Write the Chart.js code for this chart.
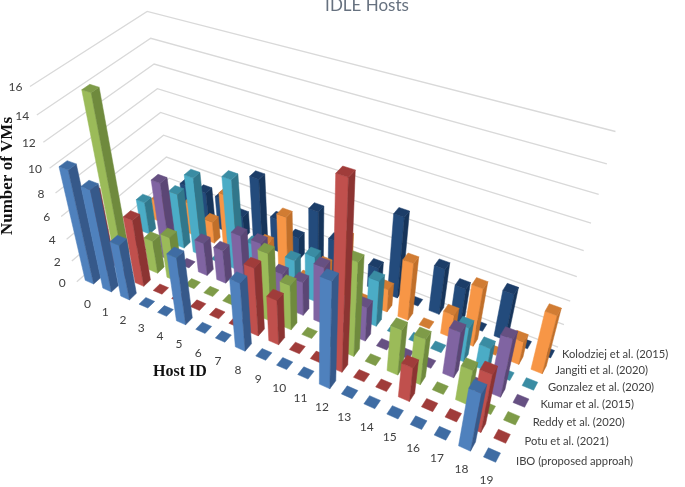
<!DOCTYPE html>
<html>
<head>
<meta charset="utf-8">
<title>IDLE Hosts</title>
<script src="https://cdn.jsdelivr.net/npm/chart.js@4"></script>
<style>
  html, body { margin: 0; padding: 0; background: #fff; }
  #wrap { width: 685px; height: 487px; }
</style>
</head>
<body>
<div id="wrap"><canvas id="idleChart"></canvas></div>
<script>
// data
const hosts = ['0','1','2','3','4','5','6','7','8','9','10','11','12','13','14','15','16','17','18','19'];
const seriesNames = ['IBO (proposed approah)','Potu et al. (2021)','Reddy et al. (2020)','Kumar et al. (2015)','Gonzalez et al. (2020)','Jangiti et al. (2020)','Kolodziej et al. (2015)'];
const ibo       = [10,9,5,0,0,6,0,0,6,0,0,0,9,0,0,0,0,0,5,0];
const potu      = [7,0,6,0,0,0,0,0,6,4,0,0,15,0,0,3,0,0,5,0];
const reddy     = [14,0,3,4,0,0,0,0,6,4,0,0,8,0,4,4,0,3,0,0];
const kumar     = [0,0,7,0,3,3,5,5,3,3,5,0,3,0,0,0,4,0,5,0];
const gonzalez  = [3,0,5,7,0,8,3,0,3,4,0,0,4,0,0,0,3,2,0,0];
const jangiti   = [2,3,3,2,5,0,2,5,0,2,5,0,2,5,0,2,5,0,2,5];
const kolodziej = [0,3,3,3,2,6,3,2,5,3,0,2,7,0,4,3,0,4,0,0];

// front face, side face, top face
const shades = [
  ['#4f81bd','#36598a','#3f6ca3'],
  ['#c0504d','#8c3432','#a03c3a'],
  ['#9bbb59','#6f8a3d','#7e9b48'],
  ['#8064a2','#5b4675','#665082'],
  ['#4bacc6','#31778b','#3a8ca3'],
  ['#f79646','#c06f2a','#d17c33'],
  ['#234b7c','#16345a','#1c3d68']
];

// camera: where the floor cells (0,0) (19,0) (19,6) (0,6) land, where verticals meet
const floorAnchors = [[93,279],[492,455],[547,352],[174,207]];
const vanish = [313,1266];
const backTopY = 11;
const rightGain = 0.07; // value axis reads a bit taller toward host 19
const halfBar = 0.24;

function makeCamera(chart) {
  const sx = chart.scales.x, sz = chart.scales.z, sy = chart.scales.y;
  const [p0,p1,p2,p3] = floorAnchors;
  const dx1 = p1[0]-p2[0], dx2 = p3[0]-p2[0], ex = p0[0]-p1[0]+p2[0]-p3[0];
  const dy1 = p1[1]-p2[1], dy2 = p3[1]-p2[1], ey = p0[1]-p1[1]+p2[1]-p3[1];
  const det = dx1*dy2-dx2*dy1;
  const g = (ex*dy2-dx2*ey)/det, h = (dx1*ey-ex*dy1)/det;
  const a = p1[0]-p0[0]+g*p1[0], b = p3[0]-p0[0]+h*p3[0];
  const d = p1[1]-p0[1]+g*p1[1], e = p3[1]-p0[1]+h*p3[1];
  const x0 = sx.getPixelForValue(0), x19 = sx.getPixelForValue(19);
  const z0 = sz.getPixelForValue(0), z6 = sz.getPixelForValue(6);
  const floor = (host, ser) => {
    const u = (sx.getPixelForValue(host)-x0)/(x19-x0);
    const v = (sz.getPixelForValue(ser)-z0)/(z6-z0);
    return [a*u+b*v+p0[0], d*u+e*v+p0[1], g*u+h*v+1, u];
  };
  const c = floor(-0.5, 6.5);
  const k = (backTopY*c[2]-c[1])/(vanish[1]-backTopY);
  return (host, ser, val) => {
    const f = floor(host, ser);
    const t = (sy.bottom-sy.getPixelForValue(val))/(sy.bottom-sy.top)*k*(1+rightGain*f[3]);
    const w = f[2]+t;
    return [(f[0]+t*vanish[0])/w, (f[1]+t*vanish[1])/w];
  };
}

function face(ctx, pts, color) {
  ctx.beginPath();
  pts.forEach((p,i)=> i ? ctx.lineTo(p[0],p[1]) : ctx.moveTo(p[0],p[1]));
  ctx.closePath();
  ctx.fillStyle = color;
  ctx.strokeStyle = color;
  ctx.lineWidth = 0.5;
  ctx.fill();
  ctx.stroke();
}

function label(ctx, text, x, y, font, color, align) {
  ctx.font = font;
  ctx.fillStyle = color;
  ctx.textAlign = align || 'center';
  ctx.textBaseline = 'middle';
  ctx.fillText(text, x, y);
}

const bars3d = {
  id: 'bars3d',
  beforeDatasetsDraw(chart) {
    const ctx = chart.ctx;
    const cam = makeCamera(chart);
    const a = halfBar;
    const tickFont = '12px Lato', tickColor = '#404040';
    ctx.save();

    // wall gridlines come from the value axis ticks
    chart.scales.y.ticks.forEach((t)=>{
      const l = cam(-0.5,-0.5,t.value), m = cam(-0.5,6.5,t.value), r = cam(19.3,6.5,t.value);
      ctx.beginPath();
      ctx.moveTo(l[0],l[1]); ctx.lineTo(m[0],m[1]); ctx.lineTo(r[0],r[1]);
      ctx.strokeStyle = '#d9d9d9';
      ctx.lineWidth = 1.3;
      ctx.stroke();
      label(ctx, String(t.value), l[0]-14.5, l[1]+1, tickFont, tickColor);
    });

    // back row first, low hosts first
    for (let s = seriesNames.length-1; s >= 0; s--) {
      const data = chart.data.datasets[s].data;
      const col = shades[s];
      data.forEach((v,h)=>{
        if (v > 0) {
          face(ctx,[cam(h-a,s-a,0),cam(h+a,s-a,0),cam(h+a,s-a,v),cam(h-a,s-a,v)],col[0]);
          face(ctx,[cam(h+a,s-a,0),cam(h+a,s+a,0),cam(h+a,s+a,v),cam(h+a,s-a,v)],col[1]);
        }
        face(ctx,[cam(h-a,s-a,v),cam(h+a,s-a,v),cam(h+a,s+a,v),cam(h-a,s+a,v)],col[2]);
      });
    }

    hosts.forEach((name,h)=>{
      const p = cam(h,0,0);
      label(ctx, name, p[0]-5.5, p[1]+25, tickFont, tickColor);
    });
    seriesNames.forEach((name,s)=>{
      const p = cam(19,s,0);
      label(ctx, name, p[0]+24-1.5*s, p[1]+6-0.67*s, '11.2px Lato', tickColor, 'left');
    });

    label(ctx, 'IDLE Hosts', 367, 6, '17px Lato', '#66717f');
    label(ctx, 'Host ID', 180, 372, 'bold 16px "Liberation Serif"', '#111');
    ctx.save();
    ctx.translate(8,176);
    ctx.rotate(-Math.PI/2);
    label(ctx, 'Number of VMs', 0, 0, 'bold 17px "Liberation Serif"', '#111');
    ctx.restore();

    ctx.restore();
    return false; // boxes above replace the flat bars
  }
};

new Chart(document.getElementById('idleChart'), {
  type: 'bar',
  data: {
    labels: hosts,
    datasets: [ibo,potu,reddy,kumar,gonzalez,jangiti,kolodziej].map((vals,i)=>({
      label: seriesNames[i],
      data: vals,
      backgroundColor: shades[i][0]
    }))
  },
  options: {
    animation: false,
    responsive: true,
    maintainAspectRatio: false,
    layout: { padding: 0 },
    plugins: { legend: { display: false }, title: { display: false }, tooltip: { enabled: false } },
    scales: {
      x: { display: false },
      z: { type: 'category', axis: 'x', position: 'bottom', labels: seriesNames, offset: true, display: false },
      y: { display: false, min: 0, max: 16, ticks: { stepSize: 2 } }
    }
  },
  plugins: [bars3d]
});
</script>
</body>
</html>
